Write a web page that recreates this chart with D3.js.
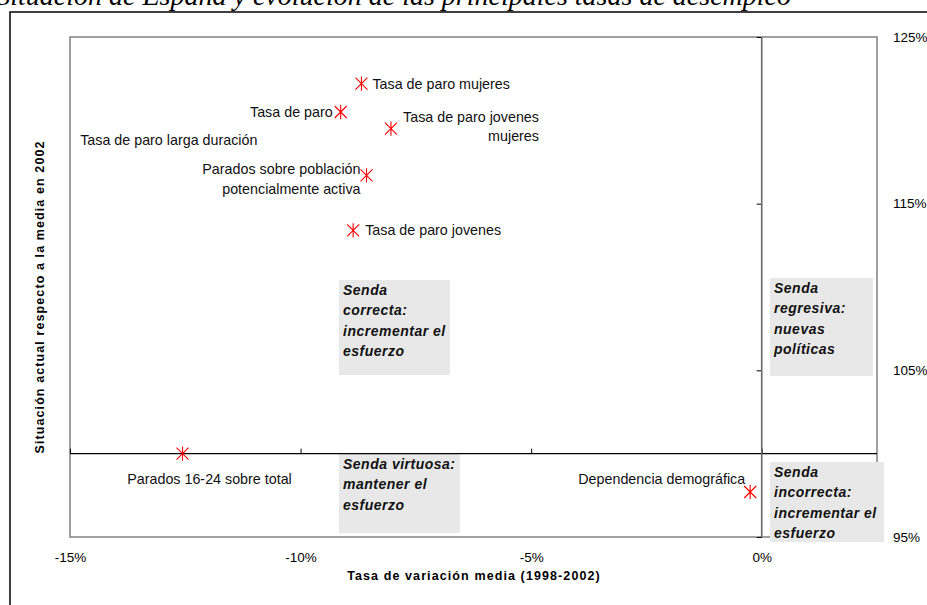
<!DOCTYPE html>
<html>
<head>
<meta charset="utf-8">
<script src="https://cdn.jsdelivr.net/npm/d3@7"></script>
<style>
  body { margin: 0; background: #fff; }
  svg { display: block; font-family: Arial, "Liberation Sans", sans-serif; }
</style>
</head>
<body>
<div id="chart"></div>
<script>
// indicator names, growth 1998-2002 (%) and level vs 2002 mean (%)
const indicators = [
  'Tasa de paro mujeres',
  'Tasa de paro',
  'Tasa de paro jovenes mujeres',
  'Parados sobre población potencialmente activa',
  'Tasa de paro jovenes',
  'Parados 16-24 sobre total',
  'Dependencia demográfica',
  'Tasa de paro larga duración'
];
const variation = [-8.68, -9.13, -8.04, -8.57, -8.86, -12.56, -0.25, -15.3];
const level = [122.2, 120.5, 119.5, 116.7, 113.4, 100.0, 97.7, 118.8];

const xTicks = [-15, -10, -5, 0];
const yTicks = [95, 105, 115, 125];

const quadrants = [
  ['Senda', 'correcta:', 'incrementar el', 'esfuerzo'],
  ['Senda virtuosa:', 'mantener el', 'esfuerzo'],
  ['Senda', 'regresiva:', 'nuevas', 'políticas'],
  ['Senda', 'incorrecta:', 'incrementar el', 'esfuerzo']
];

const titleText = 'Situación de España y evolución de las principales tasas de desempleo';
const xTitle = 'Tasa de variación media (1998-2002)';
const yTitle = 'Situación actual respecto a la media en 2002';

const width = 927, height = 605;
const plot = {left: 70, right: 877, top: 37, bottom: 537};

const svg = d3.select('#chart').append('svg')
  .attr('width', width)
  .attr('height', height);

const x = d3.scaleLinear().domain([-15, 2.5]).range([plot.left, plot.right]);
const y = d3.scaleLinear().domain([95, 125]).range([plot.bottom, plot.top]);

// title, cut off by the top of the page as in the source
svg.append('text')
  .attr('x', 791)
  .attr('y', 5)
  .attr('text-anchor', 'end')
  .style('font-family', '"Times New Roman", "Liberation Serif", serif')
  .style('font-style', 'italic')
  .style('font-size', '28px')
  .text(titleText);

// outer frame (runs off the page right and bottom)
svg.append('rect')
  .attr('x', 10).attr('y', 12)
  .attr('width', 940).attr('height', 620)
  .attr('fill', 'none')
  .attr('stroke', '#000')
  .attr('stroke-width', 1.5);

// plot area border
svg.append('rect')
  .attr('x', plot.left).attr('y', plot.top)
  .attr('width', plot.right - plot.left).attr('height', plot.bottom - plot.top)
  .attr('fill', 'none')
  .attr('stroke', '#808080')
  .attr('stroke-width', 1.5);

// quadrant boxes
const boxes = [
  {x0: 339, y0: 280, x1: 450, y1: 375},
  {x0: 339, y0: 454, x1: 460, y1: 533},
  {x0: 770, y0: 278, x1: 873, y1: 376},
  {x0: 770, y0: 462, x1: 884, y1: 542}
];
boxes.forEach((b, i) => {
  svg.append('rect')
    .attr('x', b.x0).attr('y', b.y0)
    .attr('width', b.x1 - b.x0).attr('height', b.y1 - b.y0)
    .attr('fill', '#e8e8e8');
  const t = svg.append('text')
    .attr('x', b.x0 + 4)
    .attr('y', b.y0 + 15)
    .style('font-size', '14px')
    .style('font-weight', 'bold')
    .style('font-style', 'italic')
    .style('letter-spacing', '0.5px')
    .attr('fill', '#111');
  quadrants[i].forEach((line, j) => {
    t.append('tspan').attr('x', b.x0 + 4).attr('dy', j === 0 ? 0 : 20.3).text(line);
  });
});

// x axis through 100%
const xAxis = svg.append('g')
  .attr('transform', `translate(0,${y(100)})`)
  .call(d3.axisTop(x).tickValues(xTicks).tickSize(5).tickFormat(d => d + '%'));
xAxis.select('.domain').remove();
xAxis.selectAll('.tick line').attr('stroke', '#000');
xAxis.selectAll('.tick text')
  .attr('y', 557 - y(100) + 5)
  .attr('dy', 0)
  .attr('fill', '#000')
  .style('font-size', '13.5px')
  .style('font-family', 'Arial, "Liberation Sans", sans-serif');
svg.append('line')
  .attr('x1', plot.left).attr('x2', plot.right)
  .attr('y1', y(100)).attr('y2', y(100))
  .attr('stroke', '#000').attr('stroke-width', 1.2);

// y axis through 0%
const yAxis = svg.append('g')
  .attr('transform', `translate(${x(0)},0)`)
  .call(d3.axisLeft(y).tickValues(yTicks).tickSize(5).tickFormat(d => d + '%'));
yAxis.select('.domain').remove();
yAxis.selectAll('.tick line').attr('stroke', '#000');
yAxis.selectAll('.tick text')
  .attr('x', 893 - x(0))
  .attr('text-anchor', 'start')
  .attr('fill', '#000')
  .style('font-size', '13.5px')
  .style('font-family', 'Arial, "Liberation Sans", sans-serif');
svg.append('line')
  .attr('x1', x(0)).attr('x2', x(0))
  .attr('y1', plot.top).attr('y2', plot.bottom)
  .attr('stroke', '#666').attr('stroke-width', 1.6);

// axis titles
svg.append('text')
  .attr('x', 474).attr('y', 580)
  .attr('text-anchor', 'middle')
  .style('font-size', '12.5px')
  .style('font-weight', 'bold')
  .style('letter-spacing', '1.1px')
  .text(xTitle);
svg.append('text')
  .attr('transform', 'translate(44,297) rotate(-90)')
  .attr('text-anchor', 'middle')
  .style('font-size', '12.5px')
  .style('font-weight', 'bold')
  .style('letter-spacing', '1.1px')
  .text(yTitle);

// markers, clipped to the plot area
svg.append('clipPath').attr('id', 'plotclip')
  .append('rect')
  .attr('x', plot.left).attr('y', plot.top)
  .attr('width', plot.right - plot.left).attr('height', plot.bottom - plot.top);

const points = indicators.map((name, i) => ({name, vx: variation[i], vy: level[i]}));
const s = 6;
const star = `M${-s},${-s}L${s},${s}M${-s},${s}L${s},${-s}M0,${-s * 1.2}L0,${s * 1.2}`;

svg.append('g').attr('clip-path', 'url(#plotclip)')
  .selectAll('path')
  .data(points.filter(d => d.vx >= -15))
  .join('path')
  .attr('transform', d => `translate(${x(d.vx)},${y(d.vy)})`)
  .attr('d', star)
  .attr('fill', 'none')
  .attr('stroke', '#ff0000')
  .attr('stroke-width', 1.1);

// label placement relative to each marker
const labelLayout = [
  {dx: 11, dy: 0, anchor: 'start', lines: ['Tasa de paro mujeres']},
  {dx: -8, dy: 0, anchor: 'end', lines: ['Tasa de paro']},
  {dx: 148, dy: -12, anchor: 'end', lines: ['Tasa de paro jovenes', 'mujeres']},
  {dx: -6, dy: -6, anchor: 'end', lines: ['Parados sobre población', 'potencialmente activa']},
  {dx: 12, dy: 0, anchor: 'start', lines: ['Tasa de paro jovenes']},
  {dx: 27, dy: 25, anchor: 'middle', lines: ['Parados 16-24 sobre total']},
  {dx: -5, dy: -13, anchor: 'end', lines: ['Dependencia demográfica']},
  {dx: 24, dy: 0, anchor: 'start', lines: ['Tasa de paro larga duración']}
];

points.forEach((p, i) => {
  const L = labelLayout[i];
  const px = x(p.vx) + L.dx;
  const t = svg.append('text')
    .attr('x', px)
    .attr('y', y(p.vy) + L.dy + 5)
    .attr('text-anchor', L.anchor)
    .style('font-size', '14.3px')
    .attr('fill', '#111');
  L.lines.forEach((line, j) => {
    t.append('tspan').attr('x', px).attr('dy', j === 0 ? 0 : 19.5).text(line);
  });
});
</script>
</body>
</html>
